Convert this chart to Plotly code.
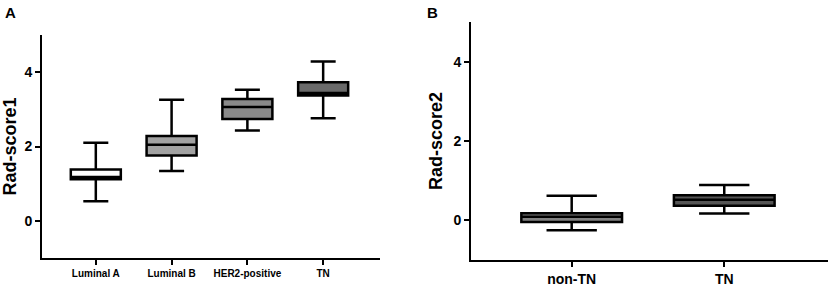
import plotly.graph_objects as go

# Panel A data
cats_a = ["Luminal A", "Luminal B", "HER2-positive", "TN"]
lower_a = [0.53, 1.34, 2.43, 2.76]
q1_a = [1.12, 1.76, 2.74, 3.37]
med_a = [1.18, 2.05, 3.06, 3.44]
q3_a = [1.38, 2.28, 3.28, 3.73]
upper_a = [2.10, 3.26, 3.53, 4.29]
fill_a = ["#ffffff", "#a2a2a2", "#8a8a8a", "#6a6a6a"]

# Panel B data
cats_b = ["non-TN", "TN"]
lower_b = [-0.25, 0.17]
q1_b = [-0.04, 0.37]
med_b = [0.09, 0.52]
q3_b = [0.18, 0.63]
upper_b = [0.62, 0.89]
fill_b = ["#808080", "#555555"]

yticks = [0, 2, 4]

FONT = "Liberation Sans, Arial, sans-serif"
W, H = 829, 289

fig = go.Figure()

for i, c in enumerate(cats_a):
    fig.add_trace(go.Box(
        x=[c], q1=[q1_a[i]], median=[med_a[i]], q3=[q3_a[i]],
        lowerfence=[lower_a[i]], upperfence=[upper_a[i]],
        fillcolor=fill_a[i], line=dict(color="black", width=2.5),
        width=0.66, whiskerwidth=0.5, boxpoints=False,
        xaxis="x", yaxis="y", showlegend=False, hoverinfo="skip"))

for i, c in enumerate(cats_b):
    fig.add_trace(go.Box(
        x=[c], q1=[q1_b[i]], median=[med_b[i]], q3=[q3_b[i]],
        lowerfence=[lower_b[i]], upperfence=[upper_b[i]],
        fillcolor=fill_b[i], line=dict(color="black", width=2.5),
        width=0.66, whiskerwidth=0.5, boxpoints=False,
        xaxis="x2", yaxis="y2", showlegend=False, hoverinfo="skip"))

def px_x(p):
    return p / W

def px_y(p):
    return 1 - p / H

axis_common = dict(showline=True, linecolor="black", linewidth=2, showgrid=False,
                   zeroline=False, ticks="outside", ticklen=5, tickwidth=2, tickcolor="black")

fig.update_layout(
    width=W, height=H, margin=dict(l=0, r=0, t=0, b=0),
    paper_bgcolor="white", plot_bgcolor="white",
    font=dict(family=FONT, color="black"),
    xaxis=dict(domain=[px_x(42), px_x(380)], anchor="y", type="category",
               categoryorder="array", categoryarray=cats_a, range=[-0.71, 3.75],
               tickfont=dict(size=10, weight="bold"), **axis_common),
    yaxis=dict(domain=[px_y(258), px_y(35)], anchor="x", range=[-1, 5],
               tickvals=yticks, tickfont=dict(size=14, weight="bold"),
               title=dict(text="Rad-score1", font=dict(size=18, weight="bold"), standoff=6),
               **axis_common),
    xaxis2=dict(domain=[px_x(471), px_x(828)], anchor="y2", type="category",
                categoryorder="array", categoryarray=cats_b, range=[-0.66, 1.68],
                tickfont=dict(size=14, weight="bold"), **axis_common),
    yaxis2=dict(domain=[px_y(260), px_y(22)], anchor="x2", range=[-1, 5],
                tickvals=yticks, tickfont=dict(size=14, weight="bold"),
                title=dict(text="Rad-score2", font=dict(size=18, weight="bold"), standoff=6),
                **axis_common),
    annotations=[
        dict(text="A", x=px_x(3), y=px_y(2), xref="paper", yref="paper",
             xanchor="left", yanchor="top", showarrow=False,
             font=dict(size=15, weight="bold")),
        dict(text="B", x=px_x(425), y=px_y(2), xref="paper", yref="paper",
             xanchor="left", yanchor="top", showarrow=False,
             font=dict(size=15, weight="bold")),
    ],
)

fig.write_html("out.html", config={"displayModeBar": False},
               post_script="document.body.style.margin='0';document.body.style.padding='0';")
